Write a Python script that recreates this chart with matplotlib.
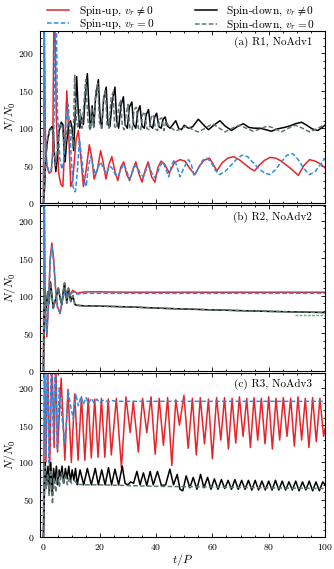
import matplotlib
matplotlib.use("Agg")
import matplotlib.pyplot as plt
from matplotlib.ticker import MultipleLocator

plt.rcParams['font.family'] = 'serif'
plt.rcParams['font.serif'] = ['cmr10', 'DejaVu Serif']
plt.rcParams['mathtext.fontset'] = 'cm'
plt.rcParams['axes.formatter.use_mathtext'] = True

# ---------------- panel (a) R1, NoAdv1 ----------------
t_a_up = [0, 0.3, 0.7, 1.2, 2.0, 2.8, 3.3, 3.7, 4.1, 4.6, 5.4, 6.2, 6.9, 7.6, 8.3, 9.0, 9.7, 10.4,
          11.6, 12.4, 13.3, 14.2, 15.2, 16.3, 17.2, 18.0, 19.2, 20.3, 21.2, 22.2, 23.3, 24.3, 25.4,
          26.4, 27.5, 28.5, 29.6, 30.6, 31.8, 32.8, 34.0, 35.0, 36.2, 37.2, 38.4, 39.6, 40.7, 41.8,
          43.0, 44.7, 46.5, 48.5, 50.3, 52.0, 53.8, 55.5, 57.0, 59.0, 61.6, 63.5, 65.5, 67.5, 69.5,
          71.5, 73.5, 75.0, 76.5, 78.5, 80.5, 82.5, 84.5, 86.5, 88.5, 90.5, 92.5, 94.5, 96.5, 98.5, 100]
n_a_up = [0, 240, 90, 50, 40, 42, 70, 240, 240, 110, 40, 25, 22, 80, 150, 90, 22, 30,
          85, 97, 60, 22, 45, 78, 60, 32, 45, 70, 55, 32, 52, 62, 42,
          30, 48, 55, 38, 30, 45, 55, 38, 28, 45, 55, 35, 28, 48, 56,
          52, 40, 54, 58, 56, 46, 38, 50, 57, 60, 43, 54, 60, 62, 58,
          52, 46, 43, 50, 57, 61, 60, 56, 50, 44, 37, 50, 58, 56, 52, 47]

t_a_up0 = [0, 0.25, 0.6, 1.1, 1.9, 2.8, 3.6, 4.2, 4.6, 5.0, 5.8, 6.6, 7.3, 8.0, 8.8, 9.6, 10.5, 11.3,
           12.0, 12.8, 13.6, 14.4, 15.2, 16.0, 16.8, 17.6, 18.5, 19.4, 20.4, 21.4, 22.4, 23.5, 24.5,
           25.5, 26.5, 27.5, 28.5, 29.5, 30.5, 31.5, 32.5, 33.5, 34.5, 35.5, 36.5, 37.5, 38.5, 39.5,
           40.5, 41.5, 42.5, 43.5, 44.5, 45.5, 46.5, 47.5, 48.5, 50.0, 51.5, 52.5, 53.5, 55.0, 56.5,
           58.0, 59.5, 61.0, 62.5, 64.5, 66.5, 68.5, 70.5, 72.5, 74.5, 76.5, 78.5, 80.5, 82.5, 84.5,
           86.5, 88.5, 90.5, 92.5, 94.5, 96.5, 98.5, 100]
n_a_up0 = [0, 240, 100, 55, 42, 45, 70, 240, 240, 120, 60, 45, 60, 110, 132, 80, 22, 15,
           40, 85, 60, 30, 22, 50, 62, 50, 38, 48, 55, 45, 40, 50, 46,
           38, 36, 45, 52, 44, 32, 40, 50, 47, 38, 35, 45, 50, 40, 34,
           40, 50, 55, 45, 35, 50, 58, 48, 35, 48, 58, 52, 36, 46, 57,
           60, 55, 44, 38, 42, 50, 58, 64, 62, 54, 46, 40, 38, 45, 55,
           64, 66, 58, 46, 38, 42, 52, 60]

t_a_dn = [0, 0.4, 0.8, 1.5, 2.2, 3.0, 3.5, 4.0, 4.4, 4.9, 5.5, 6.3, 6.9, 7.3, 7.7, 8.2, 9.0, 9.6,
          10.2, 10.7, 11.2, 11.8, 12.4, 12.9, 13.5, 14.2, 14.8, 15.6, 16.2, 16.7, 17.3, 17.9, 18.5,
          19.5, 20.1, 20.7, 21.4, 22.3, 22.9, 23.6, 24.4, 25.4, 26.0, 26.7, 27.5, 28.4, 29.0, 29.8,
          30.5, 31.4, 32.0, 32.8, 33.5, 34.3, 35.0, 35.8, 36.5, 37.3, 38.0, 38.8, 39.5, 40.2, 41.0,
          41.8, 42.5, 43.2, 44.0, 45.0, 46.0, 47.0, 48.0, 49.0, 50.0, 51.5, 53.0, 55.0, 57.0, 58.6,
          60.5, 62.7, 64.5, 66.8, 68.8, 71.0, 73.0, 75.0, 77.0, 79.0, 81.0, 83.0, 85.5, 87.5, 89.5,
          91.7, 93.5, 95.5, 97.5, 100]
n_a_dn = [0, 20, 60, 85, 98, 102, 95, 60, 42, 60, 95, 108, 105, 75, 55, 80, 105, 110,
          100, 70, 110, 169, 120, 100, 115, 105, 140, 173, 125, 100, 130, 102, 140,
          165, 115, 100, 140, 155, 105, 102, 135, 155, 110, 100, 130, 142, 105, 100,
          128, 135, 105, 100, 122, 130, 103, 100, 118, 125, 103, 100, 115, 120, 102,
          100, 112, 115, 103, 100, 105, 110, 100, 98, 104, 100, 102, 112, 104, 98,
          104, 110, 103, 97, 102, 106, 101, 100, 100, 98, 96, 99, 101, 103, 106,
          108, 104, 99, 97, 104]

t_a_dn0 = [0, 0.5, 1.0, 1.7, 2.5, 3.2, 3.8, 4.3, 4.8, 5.4, 6.1, 6.8, 7.4, 8.0, 8.6, 9.3, 9.9, 10.5,
           11.1, 11.7, 12.3, 13.0, 13.7, 14.4, 15.0, 15.8, 16.5, 17.1, 17.8, 18.6, 19.3, 19.9, 20.6,
           21.3, 22.0, 22.6, 23.3, 24.0, 24.7, 25.3, 26.0, 26.7, 27.4, 28.0, 28.7, 29.4, 30.0, 30.7,
           31.5, 32.2, 33.0, 33.7, 34.5, 35.2, 36.0, 36.7, 37.5, 38.3, 39.0, 39.8, 40.5, 41.3, 42.0,
           42.8, 43.5, 44.3, 45.5, 47.0, 49.0, 51.0, 53.0, 55.0, 57.5, 60.0, 62.5, 64.5, 67.0, 69.5,
           72.0, 74.5, 77.0, 79.5, 82.0, 84.5, 87.0, 89.5, 92.0, 94.5, 97.0, 100]
n_a_dn0 = [0, 30, 70, 90, 100, 98, 70, 50, 65, 98, 106, 100, 70, 85, 104, 108, 95, 75,
           171, 110, 100, 125, 100, 135, 165, 110, 98, 128, 100, 150, 160, 108, 100,
           138, 150, 104, 100, 140, 148, 102, 100, 128, 138, 103, 98, 120, 132, 100,
           98, 125, 128, 100, 97, 118, 122, 100, 98, 115, 118, 99, 97, 112, 114,
           97, 110, 104, 100, 96, 100, 103, 98, 95, 100, 106, 100, 95, 100, 104,
           100, 96, 99, 103, 100, 95, 100, 104, 100, 95, 99, 105]

# ---------------- panel (b) R2, NoAdv2 ----------------
t_b_up = [0, 0.3, 0.6, 1.2, 1.8, 2.4, 3.0, 3.6, 4.3, 5.0, 5.9, 6.8, 7.6, 8.3, 9.0, 9.7, 10.4, 11.2,
          12.0, 13.0, 15.0, 20.0, 30.0, 50.0, 70.0, 100]
n_b_up = [0, 240, 90, 45, 90, 150, 170, 150, 110, 85, 76, 95, 108, 104, 100, 103, 107, 105,
          103, 104, 105, 105, 104.5, 104.5, 104.5, 104.5]
n_b_up0 = [0, 240, 88, 50, 88, 146, 166, 146, 108, 84, 77, 94, 106, 102, 100, 102, 105, 103,
           102, 102.5, 103, 103, 103, 103, 103, 103]

t_b_dn = [0, 0.4, 0.9, 1.5, 2.0, 2.5, 3.0, 3.5, 4.3, 5.3, 6.0, 6.5, 7.0, 7.5, 8.3, 8.9, 9.7,
          10.4, 11.2, 12.0, 14.0, 20.0, 30.0, 43.0, 60.0, 80.0, 100]
n_b_dn = [0, 110, 80, 105, 90, 118, 100, 83, 95, 110, 95, 88, 105, 117, 90, 110, 92,
          100, 88, 87, 86.5, 86, 85, 83, 81, 79, 77.5]
t_b_fit = [89.5, 100]
n_b_fit = [74, 74]

# ---------------- panel (c) R3, NoAdv3 ----------------
t_c_up = [0, 0.4, 0.9, 1.5, 2.2, 3.0, 3.8, 4.4, 5.0, 6.3, 7.6, 8.7, 9.9, 11.1, 12.3, 13.5, 14.7,
          15.9, 17.0, 18.2, 19.4, 20.6, 21.8, 23.0, 24.1, 25.9, 27.7, 29.3, 30.8, 31.9, 33.7, 35.2,
          36.7, 38.2, 39.7, 41.1, 42.6, 44.1, 45.6, 47.0, 48.3, 49.9, 51.4, 52.9, 54.3, 55.7, 57.2,
          58.6, 60.0, 61.5, 63.0, 64.3, 65.7, 67.0, 68.3, 69.6, 70.9, 72.2, 73.5, 74.8, 76.1, 77.4,
          78.7, 80.0, 81.3, 82.6, 83.9, 85.2, 86.5, 87.8, 89.1, 90.4, 91.7, 93.0, 94.3, 95.6, 96.9,
          98.2, 99.5, 100]
n_c_up = [0, 240, 100, 240, 90, 240, 120, 240, 114, 213, 103, 198, 100, 192, 103, 188, 103,
          186, 106, 185, 107, 186, 107, 185, 110, 186, 93, 188, 140, 182, 114, 186,
          140, 188, 111, 186, 123, 187, 96, 184, 150, 190, 119, 186, 110, 187, 125,
          185, 105, 187, 130, 187, 118, 186, 126, 188, 135, 186, 120, 187, 130, 186,
          125, 188, 118, 186, 130, 187, 135, 186, 122, 188, 130, 186, 120, 187, 128,
          186, 135, 145]

t_c_up0 = [0, 0.3, 0.8, 1.4, 2.0, 2.8, 3.6, 4.2, 4.9, 5.6, 6.6, 7.7, 8.8, 9.7, 10.6,
           11.5, 12.4, 13.3, 14.2, 15.1, 16.0, 17.0, 18.0, 19.0, 20.0,
           21.5, 23.0, 24.5, 26.0, 28.0, 30.0, 35.0, 50.0, 70.0, 100]
n_c_up0 = [0, 240, 110, 240, 100, 240, 130, 240, 118, 200, 160, 126, 195, 175, 159,
           192, 176, 188, 178, 187, 179, 186, 180, 185, 180,
           184, 181, 183, 182, 182, 182, 182, 182, 182, 182]

t_c_dn = [0, 0.6, 1.1, 1.6, 2.1, 2.6, 3.1, 3.6, 4.1, 4.6, 5.1, 5.6, 6.1, 6.6, 7.2, 7.8, 8.4,
          9.0, 9.6, 10.2, 10.8, 11.4, 12.0, 13.0, 14.3, 15.6, 17.0, 18.4, 19.5, 20.7, 21.9, 23.1,
          24.2, 25.4, 26.7, 28.0, 29.0, 30.0, 31.0, 32.0, 33.2, 34.3, 35.5, 36.7, 37.9, 39.0,
          40.5, 41.9, 43.4, 44.9, 46.2, 47.5, 48.5, 49.5, 50.7, 52.0, 53.2, 54.5, 55.8, 57.0,
          58.3, 59.5, 60.7, 62.0, 63.2, 64.4, 65.6, 66.8, 68.0, 69.2, 70.4, 71.6, 72.8, 74.0,
          75.2, 76.4, 77.6, 78.8, 80.0, 81.2, 82.4, 83.6, 84.8, 86.0, 87.2, 88.4, 89.6, 90.8,
          92.0, 93.2, 94.4, 95.6, 96.8, 98.0, 99.2, 100]
n_c_dn = [0, 100, 70, 95, 60, 100, 56, 92, 75, 95, 70, 90, 80, 95, 72, 92, 78,
          95, 74, 90, 76, 92, 70, 90, 70, 92, 70, 92, 70, 90, 70, 93,
          70, 91, 70, 95, 72, 70, 74, 72, 88, 70, 86, 69, 88, 70,
          88, 69, 70, 91, 70, 84, 64, 62, 82, 66, 80, 64, 84, 66,
          80, 64, 78, 64, 77, 65, 76, 64, 77, 64, 76, 64, 76, 63,
          76, 63, 75, 63, 75, 63, 76, 63, 75, 63, 74, 63, 75, 62,
          74, 63, 75, 62, 74, 62, 74, 70]

t_c_dn0 = [0, 0.5, 1.0, 1.5, 2.0, 2.6, 3.2, 3.8, 4.4, 5.0, 5.7, 6.4, 7.1, 7.8, 8.5, 9.2, 10.0,
           11.0, 12.0, 14.0, 17.0, 20.0, 30.0, 40.0, 50.0, 60.0, 70.0, 80.0, 90.0, 100]
n_c_dn0 = [0, 95, 65, 85, 55, 90, 44, 80, 60, 88, 68, 86, 72, 84, 70, 80, 72,
           76, 71, 70, 70, 70, 69, 68, 67.5, 67, 66.5, 66, 65.5, 65]

RED = '#e5252b'
BLUE = '#2f8de0'
GREY = '#5d7575'

fig = plt.figure(figsize=(3.34, 5.69), dpi=100)
x0, w = 39.5 / 334, (325 - 39.5) / 334
boxes = [(31, 203), (205.5, 370.7), (373, 537)]
axes = []
for top, bot in boxes:
    axes.append(fig.add_axes([x0, 1 - bot / 569, w, (bot - top) / 569]))

lw = 1.1
panels = [
    (axes[0], (t_a_up, n_a_up), (t_a_up0, n_a_up0), (t_a_dn, n_a_dn), (t_a_dn0, n_a_dn0), 230, '(a) R1, NoAdv1'),
    (axes[1], (t_b_up, n_b_up), (t_b_up, n_b_up0), (t_b_dn, n_b_dn), (t_b_dn, n_b_dn), 220, '(b) R2, NoAdv2'),
    (axes[2], (t_c_up, n_c_up), (t_c_up0, n_c_up0), (t_c_dn, n_c_dn), (t_c_dn0, n_c_dn0), 220, '(c) R3, NoAdv3'),
]
handles = []
for ax, up, up0, dn, dn0, ytop, label in panels:
    h1, = ax.plot(up[0], up[1], color=RED, lw=lw, label='Spin-up, $v_r \\neq 0$')
    h3, = ax.plot(dn[0], dn[1], color='black', lw=lw, label='Spin-down, $v_r \\neq 0$')
    h2, = ax.plot(up0[0], up0[1], color=BLUE, lw=lw, ls=(0, (3, 1.5)), label='Spin-up, $v_r = 0$')
    h4, = ax.plot(dn0[0], dn0[1], color=GREY, lw=lw, ls=(0, (3, 1.5)), label='Spin-down, $v_r = 0$')
    handles = [h1, h2, h3, h4]
    ax.set_xlim(-1.4, 100)
    ax.set_ylim(0, ytop)
    ax.xaxis.set_major_locator(MultipleLocator(20))
    ax.xaxis.set_minor_locator(MultipleLocator(5))
    ax.yaxis.set_major_locator(MultipleLocator(50))
    ax.yaxis.set_minor_locator(MultipleLocator(10))
    ax.tick_params(which='both', direction='in', top=True, right=True, labelsize=7, width=0.6)
    ax.tick_params(which='major', length=3)
    ax.tick_params(which='minor', length=1.5)
    for s in ax.spines.values():
        s.set_linewidth(0.8)
    ax.set_ylabel('$N/N_0$', fontsize=8.5, labelpad=0)
    ax.text(0.955, 0.965, label, transform=ax.transAxes, ha='right', va='top', fontsize=8)
    if ax is not axes[2]:
        ax.tick_params(labelbottom=False)

axes[1].plot(t_b_fit, n_b_fit, color='#5cb85c', lw=1.0, ls=(0, (2, 1)))
axes[2].set_xlabel('$t/P$', fontsize=8.5, labelpad=0)

fig.legend(handles=handles, loc='upper center', bbox_to_anchor=(0.543, 0.998), ncol=2, frameon=False,
           fontsize=8.2, handlelength=1.95, columnspacing=3.6, labelspacing=0.0, handletextpad=0.8,
           borderpad=0.2, borderaxespad=0)

fig.savefig('out.png', dpi=100)
